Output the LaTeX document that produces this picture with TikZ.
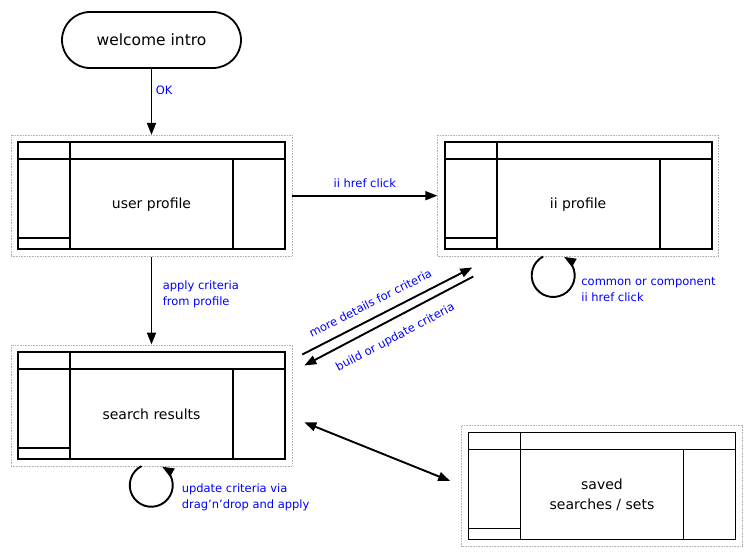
\documentclass[tikz,border=0pt]{standalone}
\usepackage{fontspec}
\setmainfont{DejaVu Sans}
\usetikzlibrary{arrows.meta, positioning, calc}

\tikzset{
  term/.style={draw, line width=1.8pt, rounded corners=28pt, minimum width=179pt,
    minimum height=56pt, font=\fontsize{15.5}{18}\selectfont},
  screen/.style={draw=gray!60, densely dotted, line width=0.6pt, minimum width=281pt,
    minimum height=121pt, inner sep=0pt,
    path picture={
      \coordinate (nw) at ([shift={(7pt,-7pt)}]path picture bounding box.north west);
      \coordinate (se) at ([shift={(-7pt,7pt)}]path picture bounding box.south east);
      \draw[-, solid, draw=black, line width=1.8pt] (nw) rectangle (se)
        ($(nw)+(0pt,-17pt)$) -- ($(nw -| se)+(0pt,-17pt)$)
        ($(nw)+(52pt,0pt)$) -- ($(nw |- se)+(52pt,0pt)$)
        ($(nw -| se)+(-52pt,-17pt)$) -- ($(se)+(-52pt,0pt)$)
        ($(nw |- se)+(0pt,11pt)$) -- ($(nw |- se)+(52pt,11pt)$);
    }},
  caption/.style={font=\fontsize{14}{20}\selectfont, align=center, yshift=-9pt},
  lbl/.style={text=blue, font=\fontsize{11.5}{16}\selectfont, align=left},
}

\begin{document}
\begin{tikzpicture}[->, >={Triangle[length=12pt, width=9pt]}, line width=1.9pt, x=1pt, y=-1pt]
    \useasboundingbox (0,0) rectangle (753,559);

    \node[term]   (welcome) at (151.5,40)       {welcome intro};
    \node[screen, label={[caption]center:user profile}]   (user)   [below=66pt of welcome]  {};
    \node[screen, label={[caption]center:search results}] (search) [below=88pt of user]     {};
    \node[screen, label={[caption]center:ii profile}]     (ii)     [right=145pt of user]    {};
    \node[screen, label={[caption]center:{saved\\searches / sets}}] (saved) at (602,486) {};

    \path (welcome) edge node[lbl, pos=0.33, right] {OK} (user)
          (user) edge node[lbl, pos=0.43, right=7pt] {apply criteria\\from profile} (search)
          (user) edge node[lbl, above=4pt] {ii href click} (ii);

    \draw ([shift={(10pt,-10pt)}]search.north east) -- node[lbl, pos=0.44, sloped, above=6pt] {more details for criteria} ([shift={(35pt,-11pt)}]ii.south west);
    \draw[<-] ([shift={(12pt,-21pt)}]search.north east) -- node[lbl, pos=0.49, sloped, below=8pt] {build or update criteria} ([shift={(36pt,-20pt)}]ii.south west);
    \draw[<->] ([shift={(12pt,-17pt)}]search.east) -- ([shift={(-11pt,5pt)}]saved.west);

    % self loops
    \draw ([xshift=-35pt]ii.south) arc[start angle=118, end angle=420, radius=21.5pt];
    \draw ([xshift=-10pt]search.south) arc[start angle=117, end angle=420, radius=21.5pt];
    \node[lbl, anchor=west] (iinote)  at ([shift={(-1pt,-33pt)}]ii.south)    {common or component\\ii href click};
    \node[lbl, anchor=west] (resnote) at ([shift={(26pt,-31pt)}]search.south) {update criteria via\\drag'n'drop and apply};
\end{tikzpicture}
\end{document}
